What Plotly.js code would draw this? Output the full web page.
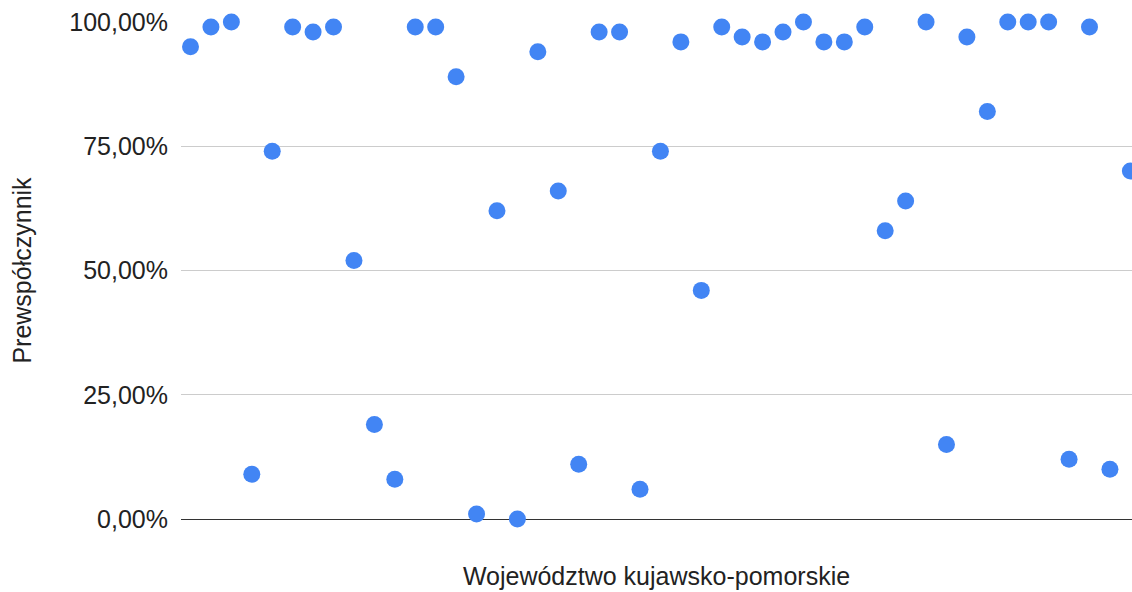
<!DOCTYPE html>
<html>
<head>
<meta charset="utf-8">
<script src="https://cdn.plot.ly/plotly-3.0.1.min.js"></script>
<style>html,body{margin:0;padding:0;background:#fff;}#chart{width:1132px;height:592px;}</style>
</head>
<body>
<div id="chart"></div>
<script>
const values = [95, 99, 100, 9, 74, 99, 98, 99, 52, 19, 8, 99, 99, 89, 1, 62, 0, 94, 66, 11, 98, 98, 6, 74, 96, 46, 99, 97, 96, 98, 100, 96, 96, 99, 58, 64, 100, 15, 97, 82, 100, 100, 100, 12, 99, 10, 70];
const positions = values.map((v, i) => i);
const yTicks = [0, 0.25, 0.5, 0.75, 1];
const xTitle = "Województwo kujawsko-pomorskie";
const yTitle = "Prewspółczynnik";

const trace = {
  x: positions,
  y: values.map(v => v / 100),
  type: 'scatter',
  mode: 'markers',
  cliponaxis: false,
  marker: {color: '#4285F4', size: 17, line: {width: 0}},
  hoverinfo: 'y'
};

const layout = {
  width: 1132, height: 592,
  margin: {l: 181, r: 0, t: 22, b: 73, pad: 0},
  separators: ', ',
  paper_bgcolor: '#fff', plot_bgcolor: '#fff',
  font: {family: 'Liberation Sans, Arial, sans-serif', size: 25, color: '#222'},
  showlegend: false,
  xaxis: {
    range: [-0.465, 46.08],
    showgrid: false, zeroline: false, showticklabels: false, ticks: '',
    showline: false,
    title: {text: xTitle, font: {size: 25, color: '#222'}, standoff: 48}
  },
  yaxis: {
    range: [0, 1],
    tickvals: yTicks,
    tickformat: '.2%',
    showgrid: true, gridcolor: '#cccccc', gridwidth: 1,
    zeroline: true, zerolinecolor: '#333333', zerolinewidth: 1,
    showline: false, ticks: '',
    ticklabelstandoff: 12,
    tickfont: {size: 25, color: '#222'},
    title: {text: yTitle, font: {size: 25, color: '#222'}, standoff: 30}
  }
};

Plotly.newPlot('chart', [trace], layout, {displayModeBar: false, staticPlot: true});
</script>
</body>
</html>
